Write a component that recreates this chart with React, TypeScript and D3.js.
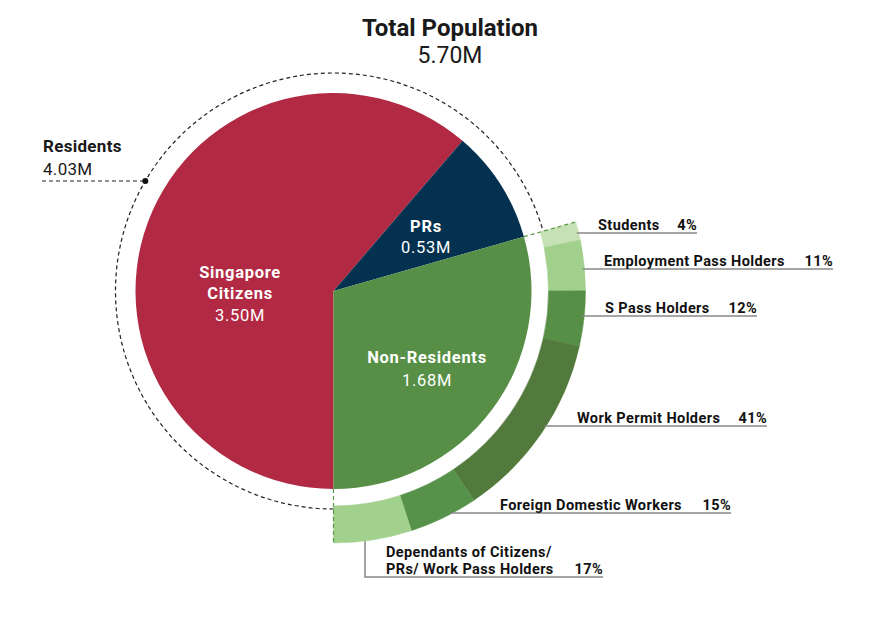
import React from "react";
import * as d3 from "d3";

const mainCategories = ["Singapore Citizens", "PRs", "Non-Residents"];
const mainValues = [3.5, 0.53, 1.68];
const mainColors = ["#b12942", "#03314f", "#568f45"];

const subCategories = ["Students", "Employment Pass Holders", "S Pass Holders", "Work Permit Holders", "Foreign Domestic Workers", "Dependants of Citizens/ PRs/ Work Pass Holders"];
const subValues = [4, 11, 12, 41, 15, 17];
const subColors = ["#c6e2b4", "#a1cf8c", "#568f45", "#537a3d", "#56924a", "#a2d08d"];

const totalLabel = "5.70M";
const residentsLabel = "4.03M";

// label layout (name x, underline y, end x)
const subLabelLayout = [
  { x: 598, y: 233, end: 697 },
  { x: 604, y: 269, end: 833 },
  { x: 605, y: 316, end: 757 },
  { x: 577, y: 426, end: 767 },
  { x: 500, y: 513, end: 731 },
  { x: 386, y: 577, end: 603 },
];

const W = 894, H = 640;
const cx = 333.5, cy = 291;
const R = 198;
const ringIn = 215, ringOut = 252;
const dashR = 218;

export default function App() {
  const pie = d3.pie<number>().sort(null).startAngle(-Math.PI).endAngle(Math.PI);
  const mainArcs = pie(mainValues);
  const arc = d3.arc<d3.PieArcDatum<number>>().innerRadius(0).outerRadius(R);
  const nr = mainArcs[2];
  const subPie = d3.pie<number>().sort(null).startAngle(nr.startAngle).endAngle(nr.endAngle);
  const subArcs = subPie(subValues);
  const ringArc = d3.arc<d3.PieArcDatum<number>>().innerRadius(ringIn).outerRadius(ringOut);
  const dashPath = (() => {
    const a0 = -Math.PI, a1 = nr.startAngle;
    const p = d3.path();
    p.arc(0, 0, dashR, a0 - Math.PI / 2, a1 - Math.PI / 2, false);
    return p.toString();
  })();
  const pt = (r: number, a: number) => [r * Math.sin(a), -r * Math.cos(a)];
  const dotY = 181 - cy;
  const dotX = -Math.sqrt(dashR * dashR - dotY * dotY);

  const font = "Roboto, 'Noto Sans', sans-serif";
  const labelSize = 14.5;
  const ls = 0.4;

  return (
    <svg width={W} height={H} style={{ position: "absolute", left: 0, top: 0, background: "#fff" }} fontFamily={font}>
      <defs>
        <radialGradient id="shadow" cx="0" cy="0" r="213" gradientUnits="userSpaceOnUse" gradientTransform={`translate(${cx},${cy})`}>
          <stop offset={0} stopColor="#fff" />
          <stop offset={204 / 213} stopColor="#fff" />
          <stop offset={209 / 213} stopColor="#d2d2d2" />
          <stop offset={211 / 213} stopColor="#e6e6e6" />
          <stop offset={1} stopColor="#fff" stopOpacity={0} />
        </radialGradient>
      </defs>
      <text x={450} y={36} textAnchor="middle" fontSize={24} fontWeight={700} fill="#1a1a1a">Total Population</text>
      <text x={450} y={63} textAnchor="middle" fontSize={23} fill="#1a1a1a">{totalLabel}</text>

      <g transform={`translate(${cx},${cy})`}>
        <circle r={213} fill="url(#shadow)" />
        {mainArcs.map((d, i) => (
          <path key={mainCategories[i]} d={arc(d) || ""} fill={mainColors[i]} />
        ))}
        {subArcs.map((d, i) => (
          <path key={subCategories[i]} d={ringArc(d) || ""} fill={subColors[i]} stroke={subColors[i]} strokeWidth={0.5} />
        ))}
        <path d={dashPath} fill="none" stroke="#222" strokeWidth={1.2} strokeDasharray="4 3" />
        {[nr.startAngle, nr.endAngle].map((a, i) => {
          const [x0, y0] = pt(R, a);
          const [x1, y1] = pt(ringOut, a);
          return <line key={i} x1={x0} y1={y0} x2={x1} y2={y1} stroke="#5a9a45" strokeWidth={1.2} strokeDasharray="4 3" />;
        })}
        <line x1={-cx + 42} y1={dotY} x2={dotX} y2={dotY} stroke="#222" strokeWidth={1.2} strokeDasharray="4 3" />
        <circle cx={dotX} cy={dotY} r={3} fill="#111" />
      </g>

      <text x={43} y={152} fontSize={17} fontWeight={700} fill="#1a1a1a" letterSpacing={0.3}>Residents</text>
      <text x={43} y={175} fontSize={17} fill="#1a1a1a" letterSpacing={0.3}>{residentsLabel}</text>

      <g fill="#fff" textAnchor="middle" fontSize={16.5}>
        <text x={240} y={278} fontWeight={700} letterSpacing={0.7}>Singapore</text>
        <text x={240} y={299} fontWeight={700} letterSpacing={0.7}>Citizens</text>
        <text x={240} y={321} letterSpacing={0.7}>3.50M</text>
        <text x={426} y={232} fontWeight={700} letterSpacing={0.7}>PRs</text>
        <text x={426} y={253} letterSpacing={0.7}>0.53M</text>
        <text x={427} y={363} fontWeight={700} letterSpacing={0.7}>Non-Residents</text>
        <text x={427} y={386} letterSpacing={0.7}>1.68M</text>
      </g>

      {subCategories.map((name, i) => {
        const L = subLabelLayout[i];
        const pct = `${subValues[i]}%`;
        const dy = L.y - cy;
        if (i === 5) {
          const vx = 365;
          const vy = cy + Math.sqrt(ringOut * ringOut - (vx - cx) * (vx - cx));
          return (
            <g key={name}>
              <path d={`M${vx},${vy}V${L.y}H${L.end}`} fill="none" stroke="#888" strokeWidth={1.5} />
              <text x={L.x} y={L.y - 20} fontSize={labelSize} fontWeight={700} fill="#111" letterSpacing={ls}>Dependants of Citizens/</text>
              <text x={L.x} y={L.y - 3} fontSize={labelSize} fontWeight={700} fill="#111" letterSpacing={ls}>PRs/ Work Pass Holders</text>
              <text x={L.end} y={L.y - 3} fontSize={labelSize} fontWeight={700} fill="#111" textAnchor="end" letterSpacing={ls}>{pct}</text>
            </g>
          );
        }
        const sx = cx + Math.sqrt(Math.max(0, ringOut * ringOut - dy * dy)) - 2;
        return (
          <g key={name}>
            <line x1={sx} y1={L.y} x2={L.end} y2={L.y} stroke="#888" strokeWidth={1.5} />
            <text x={L.x} y={L.y - 3} fontSize={labelSize} fontWeight={700} fill="#111" letterSpacing={ls}>{name}</text>
            <text x={L.end} y={L.y - 3} fontSize={labelSize} fontWeight={700} fill="#111" textAnchor="end" letterSpacing={ls}>{pct}</text>
          </g>
        );
      })}
    </svg>
  );
}
